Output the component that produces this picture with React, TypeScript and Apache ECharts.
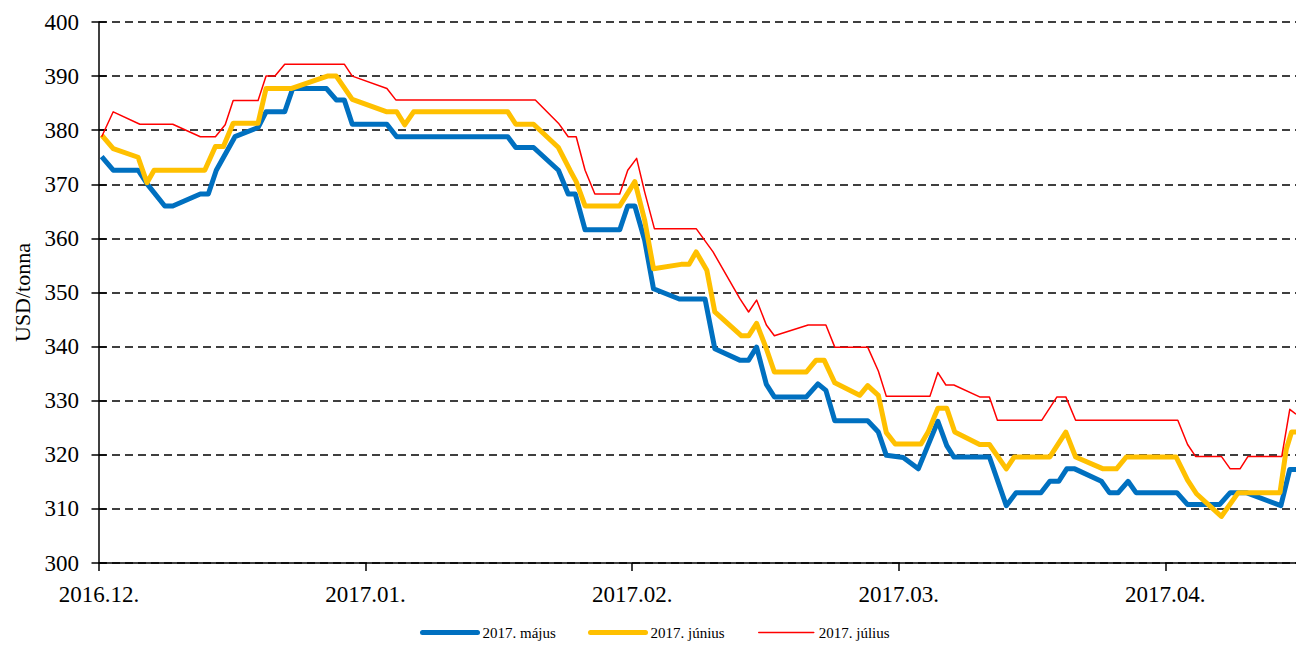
import React, { useEffect, useRef } from 'react';
import * as echarts from 'echarts';

// x values are in "axis days": 30 units per month, 0 = 2016.12. tick
const monthLabels = ['2016.12.', '2017.01.', '2017.02.', '2017.03.', '2017.04.'];
const seriesNames = ['2017. május', '2017. június', '2017. július'];
const yAxisName = 'USD/tonna';

const majus: [number, number][] = [
  [0.3, 375.1], [1.6, 372.6], [4.4, 372.6], [5.5, 369.9], [7.4, 366.0], [8.3, 366.0], [11.4, 368.2], [12.3, 368.2],
  [13.2, 372.6], [15.3, 378.8], [17.9, 380.5], [18.8, 383.4], [20.9, 383.4], [21.8, 387.7], [25.6, 387.7], [26.7, 385.6],
  [27.6, 385.6], [28.5, 381.1], [32.4, 381.1], [33.5, 378.8], [46.0, 378.8], [46.9, 376.8], [48.9, 376.8], [51.7, 372.6],
  [52.8, 368.2], [53.6, 368.2], [54.7, 361.6], [58.6, 361.6], [59.5, 366.0], [60.3, 366.0], [61.4, 359.7], [62.4, 350.7],
  [65.3, 348.8], [68.2, 348.8], [69.3, 339.6], [72.1, 337.5], [73.1, 337.5], [74.0, 339.9], [75.1, 333.0], [76.0, 330.7],
  [79.6, 330.7], [80.9, 333.1], [81.8, 331.9], [82.8, 326.3], [86.5, 326.3], [87.7, 324.2], [88.6, 319.9], [90.5, 319.5],
  [92.2, 317.4], [94.4, 326.2], [95.4, 321.7], [96.2, 319.6], [100.2, 319.6], [102.1, 310.6], [103.2, 313.0], [106.0, 313.0],
  [107.0, 315.1], [108.0, 315.1], [108.9, 317.4], [109.8, 317.4], [112.8, 315.1], [113.7, 313.0], [114.7, 313.0], [115.8, 315.1],
  [116.7, 313.0], [121.3, 313.0], [122.5, 310.8], [126.1, 310.8], [127.3, 313.0], [129.1, 313.0], [133.0, 310.6], [134.0, 317.3],
  [134.7, 317.3],
];

const junius: [number, number][] = [
  [0.3, 379.1], [1.6, 376.6], [4.4, 375.0], [5.4, 370.3], [6.2, 372.6], [11.9, 372.6], [13.1, 377.0], [14.0, 377.0],
  [15.1, 381.3], [17.9, 381.3], [18.8, 387.7], [21.6, 387.7], [25.7, 390.0], [26.7, 390.0], [28.5, 385.7], [32.4, 383.4],
  [33.5, 383.4], [34.4, 381.0], [35.4, 383.4], [46.0, 383.4], [46.9, 381.1], [48.9, 381.1], [51.7, 376.8], [53.0, 372.6],
  [53.7, 370.5], [54.7, 366.0], [58.6, 366.0], [60.3, 370.5], [61.4, 363.4], [62.4, 354.4], [65.5, 355.2], [66.4, 355.2],
  [67.2, 357.5], [68.4, 354.1], [69.3, 346.4], [72.3, 342.0], [73.1, 342.0], [74.0, 344.3], [75.1, 339.6], [76.0, 335.3],
  [79.6, 335.3], [80.7, 337.5], [81.6, 337.5], [82.8, 333.3], [85.6, 331.0], [86.5, 332.8], [87.7, 331.0], [88.6, 324.1],
  [89.6, 322.0], [92.5, 322.0], [93.3, 324.2], [94.4, 328.6], [95.4, 328.6], [96.3, 324.2], [99.1, 321.9], [100.2, 321.9],
  [102.1, 317.4], [103.0, 319.6], [107.0, 319.6], [108.8, 324.2], [109.9, 319.6], [113.0, 317.4], [114.5, 317.4], [115.6, 319.6],
  [121.2, 319.6], [122.5, 315.3], [123.5, 312.8], [126.3, 308.6], [128.2, 313.0], [132.9, 313.0], [133.6, 321.0], [134.2, 324.2],
  [134.7, 324.2],
];

const julius: [number, number][] = [
  [0.3, 378.8], [1.6, 383.4], [4.6, 381.1], [8.3, 381.1], [11.4, 378.8], [13.1, 378.8], [14.2, 381.0], [15.1, 385.5],
  [17.9, 385.5], [18.8, 390.0], [19.8, 390.0], [20.9, 392.2], [27.6, 392.2], [28.5, 390.0], [32.4, 387.7], [33.4, 385.6],
  [49.1, 385.6], [51.7, 381.3], [52.8, 378.8], [53.7, 378.8], [54.7, 372.6], [55.8, 368.2], [58.6, 368.2], [59.5, 372.6],
  [60.5, 374.8], [61.4, 368.6], [62.5, 361.8], [67.2, 361.8], [69.1, 357.5], [72.1, 348.9], [73.1, 346.4], [74.0, 348.6],
  [75.1, 344.0], [76.0, 342.0], [79.8, 344.0], [81.8, 344.0], [82.8, 339.9], [86.5, 339.9], [87.7, 335.5], [88.6, 330.8],
  [93.5, 330.8], [94.4, 335.2], [95.3, 332.9], [96.2, 332.9], [99.1, 330.7], [100.2, 330.7], [101.1, 326.4], [106.1, 326.4],
  [107.8, 330.7], [108.8, 330.7], [109.9, 326.4], [121.4, 326.4], [122.5, 321.9], [123.4, 319.7], [126.3, 319.7], [127.3, 317.4],
  [128.4, 317.4], [129.3, 319.7], [133.1, 319.7], [134.0, 328.4], [134.7, 327.5],
];

const seriesData = [majus, junius, julius];
const seriesColors = ['#0070C0', '#FFC000', '#FF0000'];
const seriesWidths = [5, 5, 1.5];
const legendLefts = [420, 588, 758];

export default function App() {
  const ref = useRef<HTMLDivElement>(null);
  useEffect(() => {
    const chart = echarts.init(ref.current!, null, { renderer: 'svg' });
    const font = 'Liberation Serif, Times New Roman, serif';
    const axisColor = '#000';
    chart.setOption({
      animation: false,
      backgroundColor: '#ffffff',
      textStyle: { fontFamily: font },
      grid: { left: 99, top: 22, right: 0, bottom: 85, containLabel: false },
      xAxis: {
        type: 'value',
        min: 0,
        max: 134.7,
        interval: 30,
        axisLine: { show: true, lineStyle: { color: axisColor, width: 1.5 } },
        axisTick: { show: true, length: 8, lineStyle: { color: axisColor, width: 1.5 } },
        axisLabel: {
          margin: 20,
          color: '#000',
          fontSize: 23,
          fontFamily: font,
          showMaxLabel: false,
          formatter: (v: number) => (Math.abs(v % 30) < 1e-6 ? monthLabels[Math.round(v / 30)] ?? '' : ''),
        },
        splitLine: { show: false },
      },
      yAxis: [
        {
          type: 'value',
          min: 300,
          max: 400,
          interval: 10,
          name: yAxisName,
          nameLocation: 'middle',
          nameGap: 66,
          nameRotate: 90,
          nameTextStyle: { color: '#000', fontSize: 22, fontFamily: font },
          axisLine: { show: true, lineStyle: { color: axisColor, width: 1.5 } },
          axisTick: { show: true, length: 7.5, lineStyle: { color: axisColor, width: 1.5 } },
          axisLabel: { margin: 20, color: '#000', fontSize: 23, fontFamily: font },
          splitLine: { show: true, lineStyle: { color: '#000', width: 1.5, type: [8, 5] } },
        },
        {
          type: 'value',
          min: 300,
          max: 400,
          interval: 10,
          position: 'left',
          axisLine: { show: false },
          axisTick: { show: true, inside: true, length: 7.5, lineStyle: { color: axisColor, width: 1.5 } },
          axisLabel: { show: false },
          splitLine: { show: false },
        },
      ],
      legend: seriesNames.map((name, i) => ({
        left: legendLefts[i],
        top: 625,
        padding: 0,
        itemWidth: 55,
        itemHeight: 14,
        itemGap: 5,
        selectedMode: false,
        textStyle: { color: '#000', fontSize: 15, fontFamily: font },
        data: [{ name, itemStyle: { opacity: 0 }, lineStyle: { width: seriesWidths[i], cap: 'round' } }],
      })),
      series: seriesNames.map((name, i) => ({
        name,
        type: 'line',
        data: seriesData[i],
        yAxisIndex: 0,
        symbol: 'none',
        showSymbol: false,
        clip: true,
        lineStyle: { color: seriesColors[i], width: seriesWidths[i], join: 'round', cap: 'butt' },
        itemStyle: { color: seriesColors[i] },
        z: 2 + i,
      })),
    });
    return () => chart.dispose();
  }, []);
  return (
    <div
      ref={ref}
      style={{ position: 'absolute', left: 0, top: 0, width: 1296, height: 648, background: '#fff' }}
    />
  );
}
